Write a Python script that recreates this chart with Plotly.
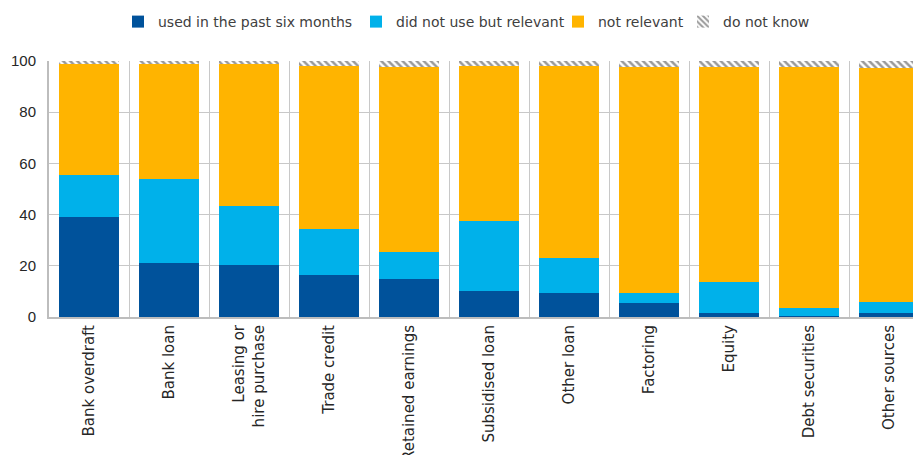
import plotly.graph_objects as go

categories = ["Bank overdraft", "Bank loan", "Leasing or<br>hire purchase", "Trade credit",
              "Retained earnings", "Subsidised loan", "Other loan", "Factoring",
              "Equity", "Debt securities", "Other sources"]
used = [39.0, 21.0, 20.5, 16.5, 15.0, 10.0, 9.5, 5.5, 1.5, 0.3, 1.5]
did_not_use = [16.5, 33.0, 23.0, 18.0, 10.5, 27.5, 13.5, 4.0, 12.0, 3.2, 4.5]
not_relevant = [43.5, 45.0, 55.5, 63.7, 72.3, 60.7, 75.2, 88.3, 84.3, 94.3, 91.1]
do_not_know = [round(100 - a - b - c, 1) for a, b, c in zip(used, did_not_use, not_relevant)]

W, H = 921, 455
FONT = "DejaVu Sans, Liberation Sans, Arial, sans-serif"
NUMFONT = "Liberation Sans, Arial, sans-serif"

fig = go.Figure()
fig.add_bar(x=categories, y=used, name="used in the past six months", legend="legend",
            marker=dict(color="#00529B", line=dict(width=0)))
fig.add_bar(x=categories, y=did_not_use, name="did not use but relevant", legend="legend2",
            marker=dict(color="#00B1EA", line=dict(width=0)))
fig.add_bar(x=categories, y=not_relevant, name="not relevant", legend="legend3",
            marker=dict(color="#FFB400", line=dict(width=0)))
fig.add_bar(x=categories, y=do_not_know, name="do not know", legend="legend4",
            marker=dict(color="white", line=dict(width=0),
                        pattern=dict(shape="\\", fgcolor="#333333", bgcolor="white",
                                     size=5, solidity=0.5)))

def leg(xpx):
    return dict(orientation="h", xref="container", yref="container",
                x=xpx / W, xanchor="left", y=1 - 14 / H, yanchor="middle",
                font=dict(family=FONT, size=14, color="#404040"),
                bgcolor="rgba(0,0,0,0)", itemwidth=30)

fig.update_layout(
    barmode="stack",
    bargap=0.24,
    width=W, height=H,
    margin=dict(l=41, r=0, t=53, b=146, autoexpand=False),
    paper_bgcolor="white", plot_bgcolor="white",
    font=dict(family=FONT, size=14, color="#404040"),
    legend=leg(110), legend2=leg(348), legend3=leg(550), legend4=leg(675),
    showlegend=True,
)
fig.update_xaxes(
    type="category", range=[-0.5, 10.5], tickangle=-90,
    tickson="boundaries", showgrid=True, gridcolor="#C8C8C8", gridwidth=1,
    showline=True, linecolor="#BDBDBD", linewidth=2, ticks="",
    tickfont=dict(family=FONT, size=15, color="#262626"), automargin=False,
)
fig.update_yaxes(
    range=[0, 100], dtick=20, showgrid=True, gridcolor="#C8C8C8", gridwidth=1,
    showline=True, linecolor="#BDBDBD", linewidth=2, ticks="", ticklabelstandoff=8,
    tickfont=dict(family=NUMFONT, size=15, color="#262626"), automargin=False, zeroline=False,
)

fig.write_html("out.html")
